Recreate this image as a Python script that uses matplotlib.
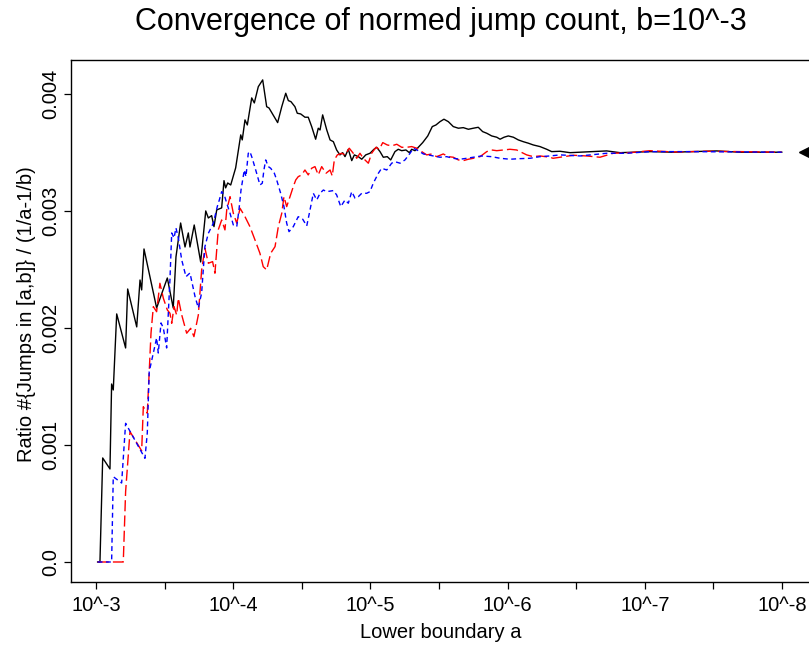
import matplotlib
matplotlib.use("Agg")
import matplotlib.pyplot as plt
from matplotlib.ticker import FixedLocator, NullFormatter
import numpy as np

plt.rcParams['font.family'] = ['Liberation Sans', 'DejaVu Sans']

# log10 of the lower boundary a, and the normed jump count ratio (x 1000)
black_log10a = [-3.012, -3.029, -3.049, -3.102, -3.114, -3.126, -3.151, -3.216, -3.231, -3.297,
                -3.321, -3.333, -3.350, -3.442, -3.520, -3.563, -3.583, -3.617, -3.649, -3.673,
                -3.685, -3.716, -3.763, -3.800, -3.819, -3.843, -3.860, -3.880, -3.916, -3.933,
                -3.945, -3.960, -3.982, -4.018, -4.055, -4.066, -4.086, -4.103, -4.135, -4.154,
                -4.183, -4.215, -4.244, -4.261, -4.324, -4.354, -4.383, -4.402, -4.421, -4.450,
                -4.467, -4.492, -4.523, -4.547, -4.572, -4.601, -4.620, -4.633, -4.652, -4.682,
                -4.706, -4.730, -4.754, -4.778, -4.798, -4.815, -4.839, -4.864, -4.883, -4.912,
                -4.937, -4.966, -4.997, -5.026, -5.046, -5.070, -5.094, -5.123, -5.148, -5.179,
                -5.203, -5.228, -5.259, -5.284, -5.301, -5.325, -5.349, -5.381, -5.418, -5.451,
                -5.478, -5.507, -5.536, -5.568, -5.604, -5.641, -5.677, -5.714, -5.750, -5.786,
                -5.818, -5.848, -5.884, -5.921, -5.945, -5.974, -6.005, -6.042, -6.078, -6.114,
                -6.151, -6.187, -6.236, -6.285, -6.321, -6.382, -6.455, -6.722, -6.819, -7.038,
                -7.206, -7.524, -7.694, -7.998]
black_ratio = [0.0, 0.0, 0.889, 0.795, 1.521, 1.470, 2.120, 1.829, 2.333, 2.009,
               2.410, 2.325, 2.675, 2.171, 2.427, 2.171, 2.607, 2.897, 2.692, 2.812,
               2.692, 2.880, 2.564, 3.000, 2.940, 2.960, 2.866, 3.009, 3.026, 3.259,
               3.197, 3.239, 3.222, 3.368, 3.650, 3.607, 3.778, 3.735, 3.966, 3.923,
               4.062, 4.120, 3.891, 3.880, 3.755, 3.891, 4.006, 3.943, 3.934, 3.891,
               3.835, 3.829, 3.801, 3.801, 3.721, 3.613, 3.707, 3.692, 3.821, 3.692,
               3.607, 3.592, 3.521, 3.479, 3.498, 3.464, 3.527, 3.430, 3.479, 3.464,
               3.442, 3.479, 3.493, 3.527, 3.544, 3.507, 3.459, 3.464, 3.436, 3.507,
               3.527, 3.515, 3.521, 3.498, 3.527, 3.515, 3.544, 3.584, 3.641, 3.721,
               3.735, 3.763, 3.784, 3.763, 3.721, 3.707, 3.712, 3.698, 3.707, 3.715,
               3.678, 3.664, 3.641, 3.630, 3.613, 3.630, 3.641, 3.630, 3.607, 3.592,
               3.579, 3.564, 3.550, 3.527, 3.507, 3.510, 3.498, 3.513, 3.498, 3.507,
               3.502, 3.513, 3.502, 3.502]

blue_log10a = [-3.012, -3.114, -3.126, -3.187, -3.216, -3.357, -3.374, -3.388, -3.418, -3.442,
               -3.454, -3.474, -3.491, -3.515, -3.539, -3.552, -3.569, -3.583, -3.600, -3.625,
               -3.656, -3.685, -3.722, -3.746, -3.770, -3.794, -3.819, -3.855, -3.884, -3.899,
               -3.916, -3.935, -3.953, -3.977, -4.001, -4.026, -4.042, -4.057, -4.069, -4.081,
               -4.093, -4.110, -4.122, -4.139, -4.171, -4.195, -4.212, -4.224, -4.237, -4.256,
               -4.273, -4.300, -4.317, -4.346, -4.370, -4.390, -4.407, -4.438, -4.474, -4.507,
               -4.536, -4.555, -4.584, -4.609, -4.633, -4.657, -4.682, -4.730, -4.754, -4.784,
               -4.815, -4.839, -4.864, -4.888, -4.912, -4.937, -4.973, -4.997, -5.021, -5.058,
               -5.082, -5.119, -5.155, -5.179, -5.216, -5.252, -5.289, -5.313, -5.349, -5.386,
               -5.422, -5.458, -5.507, -5.556, -5.604, -5.653, -5.702, -5.750, -5.811, -5.884,
               -5.945, -6.017, -6.090, -6.163, -6.236, -6.309, -6.382, -6.528, -6.722, -6.868,
               -7.038, -7.329, -7.998]
blue_ratio = [0.0, 0.0, 0.729, 0.675, 1.185, 0.886, 1.103, 1.626, 1.786, 1.915,
              1.786, 2.043, 2.000, 1.829, 2.410, 2.812, 2.769, 2.855, 2.769, 2.581,
              2.438, 2.470, 2.268, 2.171, 2.299, 2.695, 2.809, 2.895, 3.037, 3.094,
              3.165, 3.137, 3.066, 2.980, 2.880, 2.866, 3.009, 3.179, 3.265, 3.350,
              3.293, 3.493, 3.507, 3.450, 3.322, 3.222, 3.237, 3.350, 3.436, 3.379,
              3.365, 3.322, 3.265, 3.151, 3.037, 2.895, 2.823, 2.866, 2.951, 2.929,
              2.872, 2.980, 3.151, 3.094, 3.151, 3.179, 3.165, 3.174, 3.137, 3.037,
              3.094, 3.066, 3.165, 3.109, 3.122, 3.151, 3.151, 3.165, 3.237, 3.322,
              3.365, 3.350, 3.408, 3.421, 3.408, 3.436, 3.493, 3.536, 3.515, 3.487,
              3.479, 3.470, 3.459, 3.464, 3.450, 3.442, 3.450, 3.459, 3.470, 3.464,
              3.450, 3.442, 3.447, 3.450, 3.464, 3.470, 3.479, 3.470, 3.493, 3.493,
              3.507, 3.507, 3.502]

red_log10a = [-3.012, -3.199, -3.216, -3.248, -3.333, -3.345, -3.374, -3.401, -3.418, -3.442,
              -3.466, -3.491, -3.520, -3.539, -3.552, -3.569, -3.588, -3.600, -3.625, -3.661,
              -3.690, -3.714, -3.746, -3.770, -3.794, -3.819, -3.850, -3.867, -3.891, -3.916,
              -3.940, -3.953, -3.977, -4.001, -4.026, -4.050, -4.086, -4.122, -4.159, -4.195,
              -4.219, -4.244, -4.273, -4.305, -4.329, -4.354, -4.370, -4.390, -4.414, -4.438,
              -4.456, -4.474, -4.499, -4.523, -4.547, -4.572, -4.596, -4.620, -4.645, -4.676,
              -4.706, -4.722, -4.737, -4.759, -4.791, -4.815, -4.846, -4.875, -4.900, -4.924,
              -4.948, -4.985, -5.009, -5.041, -5.065, -5.090, -5.123, -5.155, -5.192, -5.228,
              -5.265, -5.301, -5.338, -5.374, -5.410, -5.447, -5.483, -5.531, -5.568, -5.604,
              -5.641, -5.677, -5.714, -5.750, -5.799, -5.848, -5.884, -5.921, -5.969, -6.017,
              -6.066, -6.139, -6.187, -6.236, -6.309, -6.331, -6.479, -6.576, -6.673, -6.770,
              -6.892, -7.038, -7.208, -7.451, -7.694, -7.998]
red_ratio = [0.0, 0.0, 0.601, 1.114, 0.950, 1.327, 1.271, 1.955, 2.182, 2.139,
             2.382, 2.254, 2.154, 2.126, 2.040, 2.182, 2.111, 2.254, 2.111, 1.955,
             1.997, 1.926, 2.111, 2.496, 2.681, 2.553, 2.567, 2.468, 2.838, 2.923,
             2.838, 3.009, 3.122, 2.980, 2.895, 3.023, 2.951, 2.866, 2.752, 2.638,
             2.524, 2.496, 2.638, 2.695, 2.866, 2.980, 3.122, 3.037, 3.122, 3.208,
             3.265, 3.293, 3.308, 3.350, 3.308, 3.365, 3.379, 3.308, 3.379, 3.322,
             3.350, 3.299, 3.436, 3.479, 3.493, 3.479, 3.536, 3.493, 3.450, 3.493,
             3.450, 3.408, 3.493, 3.544, 3.527, 3.584, 3.564, 3.556, 3.570, 3.544,
             3.544, 3.550, 3.536, 3.507, 3.479, 3.487, 3.464, 3.487, 3.464, 3.459,
             3.436, 3.430, 3.442, 3.450, 3.464, 3.507, 3.521, 3.515, 3.521, 3.527,
             3.521, 3.479, 3.464, 3.470, 3.459, 3.450, 3.476, 3.470, 3.459, 3.493,
             3.498, 3.515, 3.504, 3.510, 3.507, 3.502]

limit_log10a = -8.17
limit_ratio = 0.0035

x_ticks = [-3, -4, -5, -6, -7, -8]
x_labels = ["10^-3", "10^-4", "10^-5", "10^-6", "10^-7", "10^-8"]
y_ticks = [0.0, 0.001, 0.002, 0.003, 0.004]
y_labels = ["0.0", "0.001", "0.002", "0.003", "0.004"]

W, H = 809, 648
fig = plt.figure(figsize=(W / 100, H / 100), dpi=100)
ax = fig.add_axes([71 / W, (H - 582) / H, (811 - 71) / W, (582 - 60) / H])

def a(vals):
    return 10.0 ** np.array(vals)

ax.plot(a(black_log10a), np.array(black_ratio) / 1000, color='black', lw=1.0)
ax.plot(a(red_log10a), np.array(red_ratio) / 1000, color='red', lw=1.0, dashes=(8, 3))
ax.plot(a(blue_log10a), np.array(blue_ratio) / 1000, color='blue', lw=1.0, dashes=(3.5, 2.5))
ax.plot([10 ** limit_log10a], [limit_ratio], marker='<', color='black', ms=9, clip_on=False)

ax.set_xscale('log')
ax.set_xlim(10 ** -2.818, 10 ** -8.211)
ax.set_ylim(-0.000171, 0.00429)

ax.xaxis.set_major_locator(FixedLocator(a(x_ticks)))
ax.set_xticklabels(x_labels)
ax.xaxis.set_minor_locator(FixedLocator(a([t - 0.5 for t in x_ticks[:-1]])))
ax.xaxis.set_minor_formatter(NullFormatter())
ax.set_yticks(y_ticks)
ax.set_yticklabels(y_labels, rotation=90, va='center')

ax.tick_params(axis='both', which='both', length=5, width=0.9, labelsize=14.5, direction='out')
ax.tick_params(axis='x', pad=5)
ax.tick_params(axis='y', pad=2.5)
for s in ax.spines.values():
    s.set_linewidth(1.0)

fig.text(441 / W, 1 - 22 / H, "Convergence of normed jump count, b=10^-3",
         ha='center', va='center', fontsize=22)
fig.text(441 / W, 1 - 632 / H, "Lower boundary a", ha='center', va='center', fontsize=14.5)
fig.text(27 / W, 1 - 314 / H, "Ratio #{Jumps in [a,b]} / (1/a-1/b)",
         ha='center', va='center', rotation=90, fontsize=14.5)

fig.savefig("out.png", dpi=100)
